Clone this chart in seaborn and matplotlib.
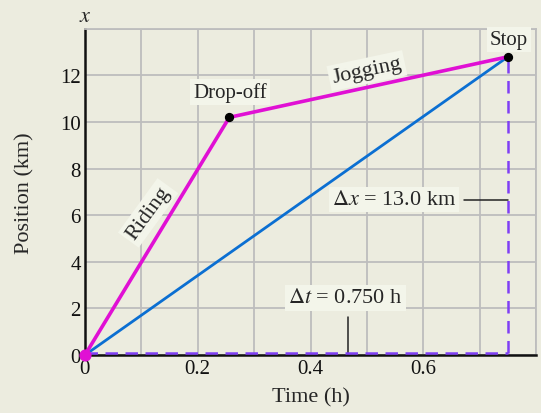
import matplotlib.pyplot as plt
import pandas as pd
import seaborn as sns

# trip points
point_names = ["Start", "Drop-off", "Stop"]
times_h = [0.0, 0.256, 0.75]
positions_km = [0.0, 10.2, 12.8]

dx_label = "$\\Delta x$ = 13.0 km"
dt_label = "$\\Delta t$ = 0.750 h"

bg = "#ECECDF"
box = "#F3F5EA"
magenta = "#E010D4"
blue = "#0B6FD2"
purple = "#7F3FF5"

sns.set_theme(style="white")
plt.rcParams["font.family"] = ["Liberation Serif", "DejaVu Serif"]
plt.rcParams["mathtext.fontset"] = "stix"

df = pd.DataFrame({"t": times_h, "x": positions_km, "name": point_names})

fig, ax = plt.subplots(figsize=(5.41, 4.14), dpi=100)
fig.patch.set_facecolor(bg)
ax.set_facecolor(bg)
fig.subplots_adjust(left=0.157, right=0.991, top=0.928, bottom=0.14)

ax.set_xlim(0, 0.8)
ax.set_ylim(0, 14)
ax.set_xticks([0, 0.1, 0.2, 0.3, 0.4, 0.5, 0.6, 0.7, 0.8])
ax.set_xticklabels(["0", "", "0.2", "", "0.4", "", "0.6", "", ""])
ax.set_yticks([0, 2, 4, 6, 8, 10, 12, 14])
ax.set_yticklabels(["0", "2", "4", "6", "8", "10", "12", ""])
ax.grid(True, color="#BDBDBD", linewidth=1.3)
ax.set_axisbelow(True)
ax.tick_params(length=0, labelsize=15, colors="#111111", pad=3)
for s in ["top", "right"]:
    ax.spines[s].set_color("#BDBDBD")
    ax.spines[s].set_linewidth(1.3)
for s in ["left", "bottom"]:
    ax.spines[s].set_color("#111111")
    ax.spines[s].set_linewidth(1.8)

# dashed displacement / interval legs
ax.plot([times_h[0], times_h[2]], [0.1, 0.1], color=purple, lw=1.8,
        dashes=(5, 3), zorder=6, clip_on=False)
ax.plot([times_h[2], times_h[2]], [0.1, positions_km[2]], color=purple, lw=1.8,
        dashes=(5, 3), zorder=3)

# average path (start to stop)
sns.lineplot(data=df.iloc[[0, 2]], x="t", y="x", color=blue, lw=2.0,
             ax=ax, zorder=4)
# actual path
sns.lineplot(data=df, x="t", y="x", color=magenta, lw=2.6, ax=ax, zorder=5)

ax.scatter(times_h[0], positions_km[0], s=60, color=magenta, zorder=7,
           clip_on=False)
ax.scatter(times_h[1:], positions_km[1:], s=32, color="black", zorder=7)

bb = dict(boxstyle="square,pad=0.15", facecolor=box, edgecolor="none")
ax.text(0.257, 11.3, "Drop-off", ha="center", va="center", fontsize=15,
        bbox=bb)
ax.text(0.752, 13.55, "Stop", ha="center", va="center", fontsize=15,
        bbox=bb)
ax.text(0.50, 12.2, "Jogging", ha="center", va="center", fontsize=16,
        rotation=12, bbox=bb)
ax.text(0.112, 6.1, "Riding", ha="center", va="center", fontsize=16,
        rotation=54, bbox=bb)

ax.text(0.548, 6.67, dx_label, ha="center", va="center", fontsize=16, bbox=bb)
ax.plot([0.672, 0.75], [6.67, 6.67], color="#222222", lw=1.1, zorder=4)
ax.text(0.462, 2.45, dt_label, ha="center", va="center", fontsize=16, bbox=bb)
ax.plot([0.467, 0.467], [0, 1.62], color="#222222", lw=1.1, zorder=4)

ax.set_xlabel("Time (h)", fontsize=16)
ax.set_ylabel("Position (km)", fontsize=16)
ax.xaxis.set_label_coords(0.5, -0.1)
ax.yaxis.set_label_coords(-0.112, 0.5)
ax.text(0, 14.52, "$x$", ha="center", va="center", fontsize=16)

fig.savefig("out.png", dpi=100, facecolor=bg)
